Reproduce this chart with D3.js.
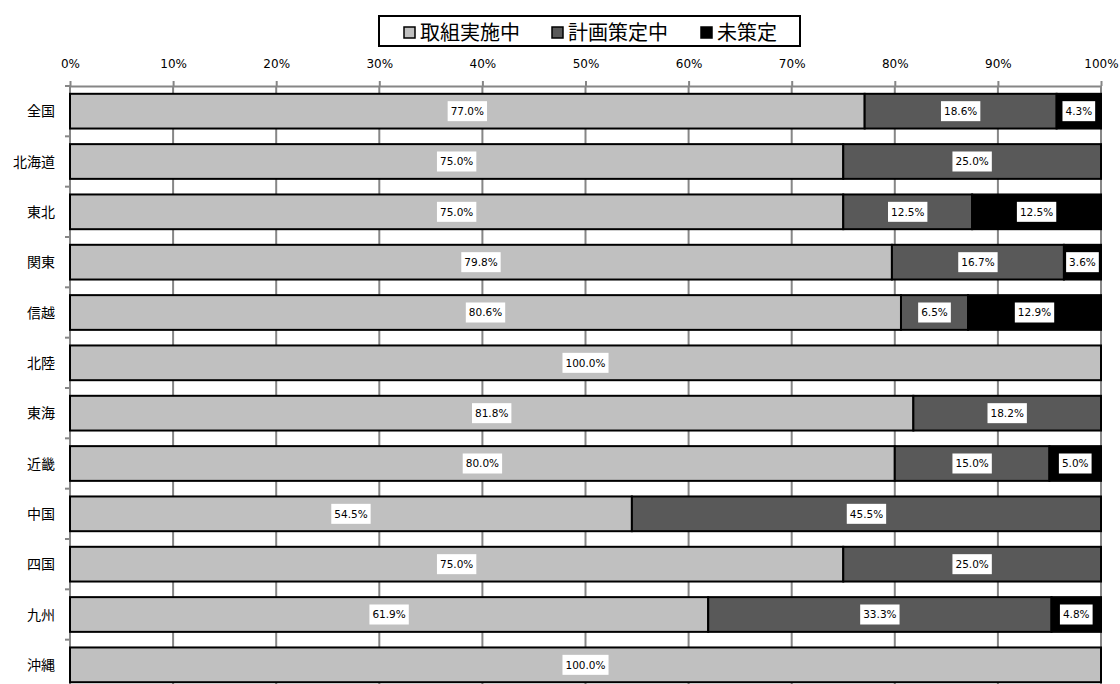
<!DOCTYPE html>
<html><head><meta charset="utf-8">
<script src="https://cdn.jsdelivr.net/npm/d3@7"></script>
<style>
html,body{margin:0;padding:0;background:#fff;}
svg{display:block;}
</style></head>
<body>
<script>
const categories = ["全国","北海道","東北","関東","信越","北陸","東海","近畿","中国","四国","九州","沖縄"];
const seriesNames = ["取組実施中","計画策定中","未策定"];
const implementing = [77.0,75.0,75.0,79.8,80.6,100.0,81.8,80.0,54.5,75.0,61.9,100.0];
const planning =     [18.6,25.0,12.5,16.7,6.5,0,18.2,15.0,45.5,25.0,33.3,0];
const notPlanned =   [4.3,0,12.5,3.6,12.9,0,0,5.0,0,0,4.8,0];
const tickValues = [0,0.1,0.2,0.3,0.4,0.5,0.6,0.7,0.8,0.9,1.0];
const colors = ["#c0c0c0","#595959","#000000"];

const W=1120,H=684;
const svg=d3.select("body").append("svg").attr("width",W).attr("height",H);

const rows = categories.map((c,i)=>({cat:c, s0:implementing[i], s1:planning[i], s2:notPlanned[i], vals:[implementing[i],planning[i],notPlanned[i]]}));
const stack = d3.stack().keys(["s0","s1","s2"]).offset(d3.stackOffsetExpand);
const stacked = stack(rows);

const x = d3.scaleLinear().domain([0,1]).range([70,1101]);
const y = d3.scaleBand().domain(categories).range([86,690]).paddingInner(0.31).paddingOuter(0.155);

// gridlines
svg.append("g").selectAll("line").data(tickValues).join("line")
  .attr("x1",d=>x(d)).attr("x2",d=>x(d)).attr("y1",86).attr("y2",H)
  .attr("stroke","#868686").attr("stroke-width",2);

// top axis
const xAxis = d3.axisTop(x).tickValues(tickValues).tickFormat(d3.format(".0%")).tickSize(5).tickSizeOuter(0);
const gx = svg.append("g").attr("transform","translate(0,86)").call(xAxis);
gx.attr("font-size",null).attr("font-family",null);
gx.select(".domain").attr("stroke","#868686").attr("stroke-width",2);
gx.selectAll(".tick line").attr("stroke","#868686").attr("stroke-width",2);
gx.selectAll(".tick text").attr("font-family","DejaVu Sans").attr("font-size","12px").attr("fill","#000").attr("y",-18).attr("dy","0");

// left axis
svg.append("line").attr("x1",70).attr("x2",70).attr("y1",86).attr("y2",H).attr("stroke","#868686").attr("stroke-width",2);
const bounds = categories.map((c,i)=> y(c) - y.step()*y.paddingInner()/2);
bounds.push(y(categories[categories.length-1]) + y.bandwidth() + y.step()*y.paddingInner()/2);
svg.append("g").selectAll("line").data(bounds).join("line")
  .attr("x1",65).attr("x2",70).attr("y1",d=>d).attr("y2",d=>d)
  .attr("stroke","#868686").attr("stroke-width",2);

// category labels
svg.append("g").selectAll("text").data(categories).join("text")
  .attr("x",55).attr("y",c=>y(c)+y.bandwidth()/2).attr("dy","0.36em")
  .attr("text-anchor","end").attr("font-family","Noto Sans CJK JP").attr("font-size",14).attr("fill","#000")
  .text(c=>c);

// bars
const layers = svg.append("g").selectAll("g").data(stacked).join("g").attr("fill",(d,i)=>colors[i]);
layers.selectAll("rect").data(d=>d.filter(p=>p[1]-p[0]>0)).join("rect")
  .attr("x",p=>x(p[0])).attr("width",p=>x(p[1])-x(p[0]))
  .attr("y",p=>y(p.data.cat)).attr("height",y.bandwidth())
  .attr("stroke","#000").attr("stroke-width",2);

// labels
const labelData=[];
stacked.forEach((layer,li)=>layer.forEach(p=>{
  const v=p.data.vals[li];
  if(v>0) labelData.push({cx:(x(p[0])+x(p[1]))/2, cy:y(p.data.cat)+y.bandwidth()/2, t:d3.format(".1f")(v)+"%"});
}));
const lg = svg.append("g").selectAll("g").data(labelData).join("g")
  .attr("transform",d=>`translate(${d.cx},${d.cy})`);
lg.append("text").attr("text-anchor","middle").attr("dy","0.36em")
  .attr("font-family","DejaVu Sans").attr("font-size",10.5).attr("fill","#000").text(d=>d.t);
lg.each(function(){
  const g=d3.select(this); const bb=g.select("text").node().getBBox();
  g.insert("rect","text").attr("x",bb.x-3).attr("y",-10).attr("width",bb.width+6).attr("height",20).attr("fill","#fff");
});

// legend
const leg = svg.append("g");
leg.append("rect").attr("x",379).attr("y",16).attr("width",421).attr("height",30)
  .attr("fill","#fff").attr("stroke","#000").attr("stroke-width",2);
const legX=[403,551,700];
const li = leg.selectAll("g").data(seriesNames).join("g").attr("transform",(d,i)=>`translate(${legX[i]},0)`);
li.append("rect").attr("x",1).attr("y",27).attr("width",11).attr("height",11)
  .attr("fill",(d,i)=>colors[i]).attr("stroke","#000").attr("stroke-width",1.5);
li.append("text").attr("x",17).attr("y",33).attr("dy","0.36em")
  .attr("font-family","Noto Sans CJK JP").attr("font-size",20).attr("fill","#000").text(d=>d);
</script>
</body></html>
